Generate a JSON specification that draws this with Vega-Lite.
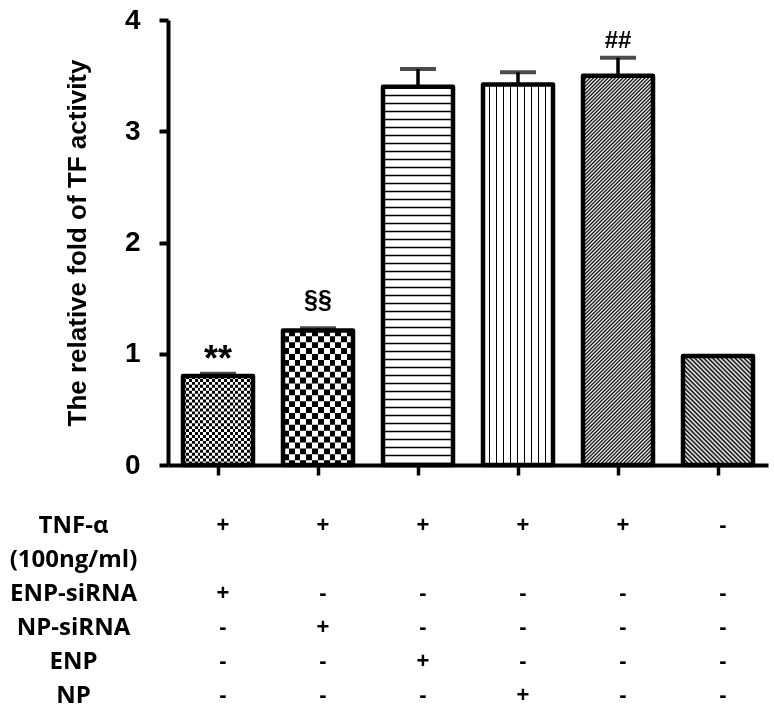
{
  "$schema": "https://vega.github.io/schema/vega-lite/v6.json",
  "background": "white",
  "padding": {"left": 9, "top": 6, "right": 5, "bottom": 0},
  "config": {"view": {"stroke": null}, "font": "Liberation Sans"},
  "spacing": 8,
  "resolve": {"scale": {"x": "independent", "y": "independent"}},
  "datasets": {
    "bars": [
      {"g": "1", "value": 0.80, "upper": 0.82, "ann": "**"},
      {"g": "2", "value": 1.21, "upper": 1.23, "ann": "§§"},
      {"g": "3", "value": 3.40, "upper": 3.56, "ann": ""},
      {"g": "4", "value": 3.42, "upper": 3.53, "ann": ""},
      {"g": "5", "value": 3.50, "upper": 3.66, "ann": "##"},
      {"g": "6", "value": 0.98, "upper": 0.98, "ann": ""}
    ],
    "table": [
      {"row": "TNF-α", "col": "1", "sign": "+"},
      {"row": "TNF-α", "col": "2", "sign": "+"},
      {"row": "TNF-α", "col": "3", "sign": "+"},
      {"row": "TNF-α", "col": "4", "sign": "+"},
      {"row": "TNF-α", "col": "5", "sign": "+"},
      {"row": "TNF-α", "col": "6", "sign": "-"},
      {"row": "ENP-siRNA", "col": "1", "sign": "+"},
      {"row": "ENP-siRNA", "col": "2", "sign": "-"},
      {"row": "ENP-siRNA", "col": "3", "sign": "-"},
      {"row": "ENP-siRNA", "col": "4", "sign": "-"},
      {"row": "ENP-siRNA", "col": "5", "sign": "-"},
      {"row": "ENP-siRNA", "col": "6", "sign": "-"},
      {"row": "NP-siRNA", "col": "1", "sign": "-"},
      {"row": "NP-siRNA", "col": "2", "sign": "+"},
      {"row": "NP-siRNA", "col": "3", "sign": "-"},
      {"row": "NP-siRNA", "col": "4", "sign": "-"},
      {"row": "NP-siRNA", "col": "5", "sign": "-"},
      {"row": "NP-siRNA", "col": "6", "sign": "-"},
      {"row": "ENP", "col": "1", "sign": "-"},
      {"row": "ENP", "col": "2", "sign": "-"},
      {"row": "ENP", "col": "3", "sign": "+"},
      {"row": "ENP", "col": "4", "sign": "-"},
      {"row": "ENP", "col": "5", "sign": "-"},
      {"row": "ENP", "col": "6", "sign": "-"},
      {"row": "NP", "col": "1", "sign": "-"},
      {"row": "NP", "col": "2", "sign": "-"},
      {"row": "NP", "col": "3", "sign": "-"},
      {"row": "NP", "col": "4", "sign": "+"},
      {"row": "NP", "col": "5", "sign": "-"},
      {"row": "NP", "col": "6", "sign": "-"}
    ]
  },
  "vconcat": [
    {
      "width": 600,
      "height": 445,
      "data": {"name": "bars"},
      "encoding": {
        "x": {
          "field": "g", "type": "nominal",
          "scale": {"domain": ["1","2","3","4","5","6"], "paddingInner": 0.3, "paddingOuter": 0.15},
          "axis": {"title": null, "labels": false, "ticks": true, "tickSize": 10, "tickWidth": 3.5, "tickColor": "black", "domainWidth": 4, "domainColor": "black", "grid": false}
        },
        "y": {
          "field": "value", "type": "quantitative",
          "title": "The relative fold of TF activity",
          "scale": {"domain": [0, 4], "nice": false, "zero": true},
          "axis": {"values": [0,1,2,3,4], "grid": false, "labelFlush": false, "labelOverlap": false,
            "titleFont": "Liberation Sans", "titleFontSize": 26, "titleFontWeight": "bold", "titleColor": "black", "titlePadding": 34,
            "labelFont": "Liberation Sans", "labelFontSize": 28, "labelFontWeight": "bold", "labelColor": "black", "labelPadding": 19,
            "tickSize": 9, "tickWidth": 4, "tickColor": "black", "domainWidth": 4, "domainColor": "black"}
        }
      },
      "layer": [
        {
          "transform": [{"filter": "datum.g === '1'"}],
          "mark": {"type": "bar", "fill": {"gradient": "linear", "x1": 0, "y1": 0, "x2": 1, "y2": 0, "stops": [
            {"offset":0,"color":"#000"},{"offset":0.0417,"color":"#000"},{"offset":0.0417,"color":"#fff"},{"offset":0.0833,"color":"#fff"},
            {"offset":0.0833,"color":"#000"},{"offset":0.125,"color":"#000"},{"offset":0.125,"color":"#fff"},{"offset":0.1667,"color":"#fff"},
            {"offset":0.1667,"color":"#000"},{"offset":0.2083,"color":"#000"},{"offset":0.2083,"color":"#fff"},{"offset":0.25,"color":"#fff"},
            {"offset":0.25,"color":"#000"},{"offset":0.2917,"color":"#000"},{"offset":0.2917,"color":"#fff"},{"offset":0.3333,"color":"#fff"},
            {"offset":0.3333,"color":"#000"},{"offset":0.375,"color":"#000"},{"offset":0.375,"color":"#fff"},{"offset":0.4167,"color":"#fff"},
            {"offset":0.4167,"color":"#000"},{"offset":0.4583,"color":"#000"},{"offset":0.4583,"color":"#fff"},{"offset":0.5,"color":"#fff"},
            {"offset":0.5,"color":"#000"},{"offset":0.5417,"color":"#000"},{"offset":0.5417,"color":"#fff"},{"offset":0.5833,"color":"#fff"},
            {"offset":0.5833,"color":"#000"},{"offset":0.625,"color":"#000"},{"offset":0.625,"color":"#fff"},{"offset":0.6667,"color":"#fff"},
            {"offset":0.6667,"color":"#000"},{"offset":0.7083,"color":"#000"},{"offset":0.7083,"color":"#fff"},{"offset":0.75,"color":"#fff"},
            {"offset":0.75,"color":"#000"},{"offset":0.7917,"color":"#000"},{"offset":0.7917,"color":"#fff"},{"offset":0.8333,"color":"#fff"},
            {"offset":0.8333,"color":"#000"},{"offset":0.875,"color":"#000"},{"offset":0.875,"color":"#fff"},{"offset":0.9167,"color":"#fff"},
            {"offset":0.9167,"color":"#000"},{"offset":0.9583,"color":"#000"},{"offset":0.9583,"color":"#fff"},{"offset":1,"color":"#fff"}
          ]}}
        },
        {
          "transform": [{"filter": "datum.g === '1'"}],
          "mark": {"type": "rule", "stroke": "white", "strokeWidth": 70, "strokeDash": [2.95, 2.95], "strokeCap": "butt", "blend": "difference"},
          "encoding": {"y2": {"datum": 0}}
        },
        {
          "transform": [{"filter": "datum.g === '2'"}],
          "mark": {"type": "bar", "fill": {"gradient": "linear", "x1": 0, "y1": 0, "x2": 1, "y2": 0, "stops": [
            {"offset":0,"color":"#000"},{"offset":0.0833,"color":"#000"},{"offset":0.0833,"color":"#fff"},{"offset":0.1667,"color":"#fff"},
            {"offset":0.1667,"color":"#000"},{"offset":0.25,"color":"#000"},{"offset":0.25,"color":"#fff"},{"offset":0.3333,"color":"#fff"},
            {"offset":0.3333,"color":"#000"},{"offset":0.4167,"color":"#000"},{"offset":0.4167,"color":"#fff"},{"offset":0.5,"color":"#fff"},
            {"offset":0.5,"color":"#000"},{"offset":0.5833,"color":"#000"},{"offset":0.5833,"color":"#fff"},{"offset":0.6667,"color":"#fff"},
            {"offset":0.6667,"color":"#000"},{"offset":0.75,"color":"#000"},{"offset":0.75,"color":"#fff"},{"offset":0.8333,"color":"#fff"},
            {"offset":0.8333,"color":"#000"},{"offset":0.9167,"color":"#000"},{"offset":0.9167,"color":"#fff"},{"offset":1,"color":"#fff"}
          ]}}
        },
        {
          "transform": [{"filter": "datum.g === '2'"}],
          "mark": {"type": "rule", "stroke": "white", "strokeWidth": 70, "strokeDash": [5.9, 5.9], "strokeCap": "butt", "blend": "difference"},
          "encoding": {"y2": {"datum": 0}}
        },
        {
          "transform": [{"filter": "datum.g === '3'"}],
          "mark": {"type": "bar", "fill": "white"}
        },
        {
          "transform": [{"filter": "datum.g === '3'"}],
          "mark": {"type": "rule", "stroke": "black", "strokeWidth": 70, "strokeDash": [1.5, 6.5], "strokeCap": "butt"},
          "encoding": {"y2": {"datum": 0}}
        },
        {
          "transform": [{"filter": "datum.g === '4'"}],
          "mark": {"type": "bar", "fill": {"gradient": "linear", "x1": 0, "y1": 0, "x2": 1, "y2": 0, "stops": [
            {"offset":0,"color":"#fff"},{"offset":0.08,"color":"#fff"},{"offset":0.08,"color":"#000"},{"offset":0.1,"color":"#000"},
            {"offset":0.1,"color":"#fff"},{"offset":0.18,"color":"#fff"},{"offset":0.18,"color":"#000"},{"offset":0.2,"color":"#000"},
            {"offset":0.2,"color":"#fff"},{"offset":0.28,"color":"#fff"},{"offset":0.28,"color":"#000"},{"offset":0.3,"color":"#000"},
            {"offset":0.3,"color":"#fff"},{"offset":0.38,"color":"#fff"},{"offset":0.38,"color":"#000"},{"offset":0.4,"color":"#000"},
            {"offset":0.4,"color":"#fff"},{"offset":0.48,"color":"#fff"},{"offset":0.48,"color":"#000"},{"offset":0.5,"color":"#000"},
            {"offset":0.5,"color":"#fff"},{"offset":0.58,"color":"#fff"},{"offset":0.58,"color":"#000"},{"offset":0.6,"color":"#000"},
            {"offset":0.6,"color":"#fff"},{"offset":0.68,"color":"#fff"},{"offset":0.68,"color":"#000"},{"offset":0.7,"color":"#000"},
            {"offset":0.7,"color":"#fff"},{"offset":0.78,"color":"#fff"},{"offset":0.78,"color":"#000"},{"offset":0.8,"color":"#000"},
            {"offset":0.8,"color":"#fff"},{"offset":0.88,"color":"#fff"},{"offset":0.88,"color":"#000"},{"offset":0.9,"color":"#000"},
            {"offset":0.9,"color":"#fff"},{"offset":1,"color":"#fff"}
          ]}}
        },
        {
          "transform": [{"filter": "datum.g === '5'"}],
          "mark": {"type": "bar", "fill": {"gradient": "linear", "x1": 0, "y1": 0, "x2": 0.206, "y2": 1.143, "stops": [
            {"offset":0,"color":"#fff"},{"offset":0.004,"color":"#000"},{"offset":0.008,"color":"#fff"},{"offset":0.012,"color":"#000"},{"offset":0.016,"color":"#fff"},
            {"offset":0.02,"color":"#000"},{"offset":0.024,"color":"#fff"},{"offset":0.028,"color":"#000"},{"offset":0.032,"color":"#fff"},{"offset":0.036,"color":"#000"},
            {"offset":0.04,"color":"#fff"},{"offset":0.044,"color":"#000"},{"offset":0.048,"color":"#fff"},{"offset":0.052,"color":"#000"},{"offset":0.056,"color":"#fff"},
            {"offset":0.06,"color":"#000"},{"offset":0.064,"color":"#fff"},{"offset":0.068,"color":"#000"},{"offset":0.072,"color":"#fff"},{"offset":0.076,"color":"#000"},
            {"offset":0.08,"color":"#fff"},{"offset":0.084,"color":"#000"},{"offset":0.088,"color":"#fff"},{"offset":0.092,"color":"#000"},{"offset":0.096,"color":"#fff"},
            {"offset":0.1,"color":"#000"},{"offset":0.104,"color":"#fff"},{"offset":0.108,"color":"#000"},{"offset":0.112,"color":"#fff"},{"offset":0.116,"color":"#000"},
            {"offset":0.12,"color":"#fff"},{"offset":0.124,"color":"#000"},{"offset":0.128,"color":"#fff"},{"offset":0.132,"color":"#000"},{"offset":0.136,"color":"#fff"},
            {"offset":0.14,"color":"#000"},{"offset":0.144,"color":"#fff"},{"offset":0.148,"color":"#000"},{"offset":0.152,"color":"#fff"},{"offset":0.156,"color":"#000"},
            {"offset":0.16,"color":"#fff"},{"offset":0.164,"color":"#000"},{"offset":0.168,"color":"#fff"},{"offset":0.172,"color":"#000"},{"offset":0.176,"color":"#fff"},
            {"offset":0.18,"color":"#000"},{"offset":0.184,"color":"#fff"},{"offset":0.188,"color":"#000"},{"offset":0.192,"color":"#fff"},{"offset":0.196,"color":"#000"},
            {"offset":0.2,"color":"#fff"},{"offset":0.204,"color":"#000"},{"offset":0.208,"color":"#fff"},{"offset":0.212,"color":"#000"},{"offset":0.216,"color":"#fff"},
            {"offset":0.22,"color":"#000"},{"offset":0.224,"color":"#fff"},{"offset":0.228,"color":"#000"},{"offset":0.232,"color":"#fff"},{"offset":0.236,"color":"#000"},
            {"offset":0.24,"color":"#fff"},{"offset":0.244,"color":"#000"},{"offset":0.248,"color":"#fff"},{"offset":0.252,"color":"#000"},{"offset":0.256,"color":"#fff"},
            {"offset":0.26,"color":"#000"},{"offset":0.264,"color":"#fff"},{"offset":0.268,"color":"#000"},{"offset":0.272,"color":"#fff"},{"offset":0.276,"color":"#000"},
            {"offset":0.28,"color":"#fff"},{"offset":0.284,"color":"#000"},{"offset":0.288,"color":"#fff"},{"offset":0.292,"color":"#000"},{"offset":0.296,"color":"#fff"},
            {"offset":0.3,"color":"#000"},{"offset":0.304,"color":"#fff"},{"offset":0.308,"color":"#000"},{"offset":0.312,"color":"#fff"},{"offset":0.316,"color":"#000"},
            {"offset":0.32,"color":"#fff"},{"offset":0.324,"color":"#000"},{"offset":0.328,"color":"#fff"},{"offset":0.332,"color":"#000"},{"offset":0.336,"color":"#fff"},
            {"offset":0.34,"color":"#000"},{"offset":0.344,"color":"#fff"},{"offset":0.348,"color":"#000"},{"offset":0.352,"color":"#fff"},{"offset":0.356,"color":"#000"},
            {"offset":0.36,"color":"#fff"},{"offset":0.364,"color":"#000"},{"offset":0.368,"color":"#fff"},{"offset":0.372,"color":"#000"},{"offset":0.376,"color":"#fff"},
            {"offset":0.38,"color":"#000"},{"offset":0.384,"color":"#fff"},{"offset":0.388,"color":"#000"},{"offset":0.392,"color":"#fff"},{"offset":0.396,"color":"#000"},
            {"offset":0.4,"color":"#fff"},{"offset":0.404,"color":"#000"},{"offset":0.408,"color":"#fff"},{"offset":0.412,"color":"#000"},{"offset":0.416,"color":"#fff"},
            {"offset":0.42,"color":"#000"},{"offset":0.424,"color":"#fff"},{"offset":0.428,"color":"#000"},{"offset":0.432,"color":"#fff"},{"offset":0.436,"color":"#000"},
            {"offset":0.44,"color":"#fff"},{"offset":0.444,"color":"#000"},{"offset":0.448,"color":"#fff"},{"offset":0.452,"color":"#000"},{"offset":0.456,"color":"#fff"},
            {"offset":0.46,"color":"#000"},{"offset":0.464,"color":"#fff"},{"offset":0.468,"color":"#000"},{"offset":0.472,"color":"#fff"},{"offset":0.476,"color":"#000"},
            {"offset":0.48,"color":"#fff"},{"offset":0.484,"color":"#000"},{"offset":0.488,"color":"#fff"},{"offset":0.492,"color":"#000"},{"offset":0.496,"color":"#fff"},
            {"offset":0.5,"color":"#000"},{"offset":0.504,"color":"#fff"},{"offset":0.508,"color":"#000"},{"offset":0.512,"color":"#fff"},{"offset":0.516,"color":"#000"},
            {"offset":0.52,"color":"#fff"},{"offset":0.524,"color":"#000"},{"offset":0.528,"color":"#fff"},{"offset":0.532,"color":"#000"},{"offset":0.536,"color":"#fff"},
            {"offset":0.54,"color":"#000"},{"offset":0.544,"color":"#fff"},{"offset":0.548,"color":"#000"},{"offset":0.552,"color":"#fff"},{"offset":0.556,"color":"#000"},
            {"offset":0.56,"color":"#fff"},{"offset":0.564,"color":"#000"},{"offset":0.568,"color":"#fff"},{"offset":0.572,"color":"#000"},{"offset":0.576,"color":"#fff"},
            {"offset":0.58,"color":"#000"},{"offset":0.584,"color":"#fff"},{"offset":0.588,"color":"#000"},{"offset":0.592,"color":"#fff"},{"offset":0.596,"color":"#000"},
            {"offset":0.6,"color":"#fff"},{"offset":0.604,"color":"#000"},{"offset":0.608,"color":"#fff"},{"offset":0.612,"color":"#000"},{"offset":0.616,"color":"#fff"},
            {"offset":0.62,"color":"#000"},{"offset":0.624,"color":"#fff"},{"offset":0.628,"color":"#000"},{"offset":0.632,"color":"#fff"},{"offset":0.636,"color":"#000"},
            {"offset":0.64,"color":"#fff"},{"offset":0.644,"color":"#000"},{"offset":0.648,"color":"#fff"},{"offset":0.652,"color":"#000"},{"offset":0.656,"color":"#fff"},
            {"offset":0.66,"color":"#000"},{"offset":0.664,"color":"#fff"},{"offset":0.668,"color":"#000"},{"offset":0.672,"color":"#fff"},{"offset":0.676,"color":"#000"},
            {"offset":0.68,"color":"#fff"},{"offset":0.684,"color":"#000"},{"offset":0.688,"color":"#fff"},{"offset":0.692,"color":"#000"},{"offset":0.696,"color":"#fff"},
            {"offset":0.7,"color":"#000"},{"offset":0.704,"color":"#fff"},{"offset":0.708,"color":"#000"},{"offset":0.712,"color":"#fff"},{"offset":0.716,"color":"#000"},
            {"offset":0.72,"color":"#fff"},{"offset":0.724,"color":"#000"},{"offset":0.728,"color":"#fff"},{"offset":0.732,"color":"#000"},{"offset":0.736,"color":"#fff"},
            {"offset":0.74,"color":"#000"},{"offset":0.744,"color":"#fff"},{"offset":0.748,"color":"#000"},{"offset":0.752,"color":"#fff"},{"offset":0.756,"color":"#000"},
            {"offset":0.76,"color":"#fff"},{"offset":0.764,"color":"#000"},{"offset":0.768,"color":"#fff"},{"offset":0.772,"color":"#000"},{"offset":0.776,"color":"#fff"},
            {"offset":0.78,"color":"#000"},{"offset":0.784,"color":"#fff"},{"offset":0.788,"color":"#000"},{"offset":0.792,"color":"#fff"},{"offset":0.796,"color":"#000"},
            {"offset":0.8,"color":"#fff"},{"offset":0.804,"color":"#000"},{"offset":0.808,"color":"#fff"},{"offset":0.812,"color":"#000"},{"offset":0.816,"color":"#fff"},
            {"offset":0.82,"color":"#000"},{"offset":0.824,"color":"#fff"},{"offset":0.828,"color":"#000"},{"offset":0.832,"color":"#fff"},{"offset":0.836,"color":"#000"},
            {"offset":0.84,"color":"#fff"},{"offset":0.844,"color":"#000"},{"offset":0.848,"color":"#fff"},{"offset":0.852,"color":"#000"},{"offset":0.856,"color":"#fff"},
            {"offset":0.86,"color":"#000"},{"offset":0.864,"color":"#fff"},{"offset":0.868,"color":"#000"},{"offset":0.872,"color":"#fff"},{"offset":0.876,"color":"#000"},
            {"offset":0.88,"color":"#fff"},{"offset":0.884,"color":"#000"},{"offset":0.888,"color":"#fff"},{"offset":0.892,"color":"#000"},{"offset":0.896,"color":"#fff"},
            {"offset":0.9,"color":"#000"},{"offset":0.904,"color":"#fff"},{"offset":0.908,"color":"#000"},{"offset":0.912,"color":"#fff"},{"offset":0.916,"color":"#000"},
            {"offset":0.92,"color":"#fff"},{"offset":0.924,"color":"#000"},{"offset":0.928,"color":"#fff"},{"offset":0.932,"color":"#000"},{"offset":0.936,"color":"#fff"},
            {"offset":0.94,"color":"#000"},{"offset":0.944,"color":"#fff"},{"offset":0.948,"color":"#000"},{"offset":0.952,"color":"#fff"},{"offset":0.956,"color":"#000"},
            {"offset":0.96,"color":"#fff"},{"offset":0.964,"color":"#000"},{"offset":0.968,"color":"#fff"},{"offset":0.972,"color":"#000"},{"offset":0.976,"color":"#fff"},
            {"offset":0.98,"color":"#000"},{"offset":0.984,"color":"#fff"},{"offset":0.988,"color":"#000"},{"offset":0.992,"color":"#fff"},{"offset":0.996,"color":"#000"},
            {"offset":1,"color":"#fff"}
          ]}}
        },
        {
          "transform": [{"filter": "datum.g === '6'"}],
          "mark": {"type": "bar", "fill": {"gradient": "linear", "x1": 0, "y1": 1, "x2": 0.747, "y2": -0.163, "stops": [
            {"offset":0,"color":"#fff"},{"offset":0.0125,"color":"#000"},{"offset":0.025,"color":"#fff"},{"offset":0.0375,"color":"#000"},
            {"offset":0.05,"color":"#fff"},{"offset":0.0625,"color":"#000"},{"offset":0.075,"color":"#fff"},{"offset":0.0875,"color":"#000"},
            {"offset":0.1,"color":"#fff"},{"offset":0.1125,"color":"#000"},{"offset":0.125,"color":"#fff"},{"offset":0.1375,"color":"#000"},
            {"offset":0.15,"color":"#fff"},{"offset":0.1625,"color":"#000"},{"offset":0.175,"color":"#fff"},{"offset":0.1875,"color":"#000"},
            {"offset":0.2,"color":"#fff"},{"offset":0.2125,"color":"#000"},{"offset":0.225,"color":"#fff"},{"offset":0.2375,"color":"#000"},
            {"offset":0.25,"color":"#fff"},{"offset":0.2625,"color":"#000"},{"offset":0.275,"color":"#fff"},{"offset":0.2875,"color":"#000"},
            {"offset":0.3,"color":"#fff"},{"offset":0.3125,"color":"#000"},{"offset":0.325,"color":"#fff"},{"offset":0.3375,"color":"#000"},
            {"offset":0.35,"color":"#fff"},{"offset":0.3625,"color":"#000"},{"offset":0.375,"color":"#fff"},{"offset":0.3875,"color":"#000"},
            {"offset":0.4,"color":"#fff"},{"offset":0.4125,"color":"#000"},{"offset":0.425,"color":"#fff"},{"offset":0.4375,"color":"#000"},
            {"offset":0.45,"color":"#fff"},{"offset":0.4625,"color":"#000"},{"offset":0.475,"color":"#fff"},{"offset":0.4875,"color":"#000"},
            {"offset":0.5,"color":"#fff"},{"offset":0.5125,"color":"#000"},{"offset":0.525,"color":"#fff"},{"offset":0.5375,"color":"#000"},
            {"offset":0.55,"color":"#fff"},{"offset":0.5625,"color":"#000"},{"offset":0.575,"color":"#fff"},{"offset":0.5875,"color":"#000"},
            {"offset":0.6,"color":"#fff"},{"offset":0.6125,"color":"#000"},{"offset":0.625,"color":"#fff"},{"offset":0.6375,"color":"#000"},
            {"offset":0.65,"color":"#fff"},{"offset":0.6625,"color":"#000"},{"offset":0.675,"color":"#fff"},{"offset":0.6875,"color":"#000"},
            {"offset":0.7,"color":"#fff"},{"offset":0.7125,"color":"#000"},{"offset":0.725,"color":"#fff"},{"offset":0.7375,"color":"#000"},
            {"offset":0.75,"color":"#fff"},{"offset":0.7625,"color":"#000"},{"offset":0.775,"color":"#fff"},{"offset":0.7875,"color":"#000"},
            {"offset":0.8,"color":"#fff"},{"offset":0.8125,"color":"#000"},{"offset":0.825,"color":"#fff"},{"offset":0.8375,"color":"#000"},
            {"offset":0.85,"color":"#fff"},{"offset":0.8625,"color":"#000"},{"offset":0.875,"color":"#fff"},{"offset":0.8875,"color":"#000"},
            {"offset":0.9,"color":"#fff"},{"offset":0.9125,"color":"#000"},{"offset":0.925,"color":"#fff"},{"offset":0.9375,"color":"#000"},
            {"offset":0.95,"color":"#fff"},{"offset":0.9625,"color":"#000"},{"offset":0.975,"color":"#fff"},{"offset":0.9875,"color":"#000"},
            {"offset":1,"color":"#fff"}
          ]}}
        },
        {
          "mark": {"type": "bar", "fillOpacity": 0, "stroke": "black", "strokeWidth": 4.5, "strokeJoin": "round"}
        },
        {
          "transform": [{"filter": "datum.upper > datum.value"}],
          "mark": {"type": "rule", "stroke": "black", "strokeWidth": 3.5},
          "encoding": {"y2": {"field": "upper"}}
        },
        {
          "transform": [{"filter": "datum.upper > datum.value"}],
          "mark": {"type": "tick", "color": "black", "size": 36, "thickness": 4, "orient": "horizontal"},
          "encoding": {"y": {"field": "upper", "type": "quantitative", "title": "The relative fold of TF activity"}}
        },
        {
          "transform": [{"filter": "datum.ann === '**'"}],
          "mark": {"type": "text", "font": "Liberation Sans", "fontSize": 36, "fontWeight": "bold", "baseline": "alphabetic", "align": "center", "dy": -3, "color": "black"},
          "encoding": {"y": {"field": "upper", "type": "quantitative", "title": "The relative fold of TF activity"}, "text": {"field": "ann"}}
        },
        {
          "transform": [{"filter": "datum.ann === '§§'"}],
          "mark": {"type": "text", "font": "Liberation Sans", "fontSize": 25, "fontWeight": "bold", "baseline": "alphabetic", "align": "center", "dy": -20, "color": "black"},
          "encoding": {"y": {"field": "upper", "type": "quantitative", "title": "The relative fold of TF activity"}, "text": {"field": "ann"}}
        },
        {
          "transform": [{"filter": "datum.ann === '##'"}],
          "mark": {"type": "text", "font": "Liberation Sans", "fontSize": 24, "fontWeight": "bold", "baseline": "alphabetic", "align": "center", "dy": -10, "color": "black"},
          "encoding": {"y": {"field": "upper", "type": "quantitative", "title": "The relative fold of TF activity"}, "text": {"field": "ann"}}
        }
      ]
    },
    {
      "width": 600,
      "height": 204,
      "data": {"name": "table"},
      "mark": {"type": "text", "font": "Liberation Sans", "fontSize": 22, "fontWeight": "bold", "dx": 5, "color": "black", "baseline": "middle"},
      "encoding": {
        "x": {"field": "col", "type": "nominal", "scale": {"domain": ["1","2","3","4","5","6"], "paddingInner": 0.3, "paddingOuter": 0.15}, "axis": null},
        "y": {"field": "row", "type": "nominal",
          "scale": {"type": "point", "padding": 0.5, "domain": ["TNF-α", "(100ng/ml)", "ENP-siRNA", "NP-siRNA", "ENP", "NP"]},
          "axis": {"title": null, "domain": false, "ticks": false, "labelFont": "Open Sans", "labelFontSize": 24, "labelFontWeight": "bold", "labelColor": "black", "labelAlign": "center", "labelPadding": 95, "labelLimit": 300}},
        "text": {"field": "sign"}
      }
    }
  ]
}
